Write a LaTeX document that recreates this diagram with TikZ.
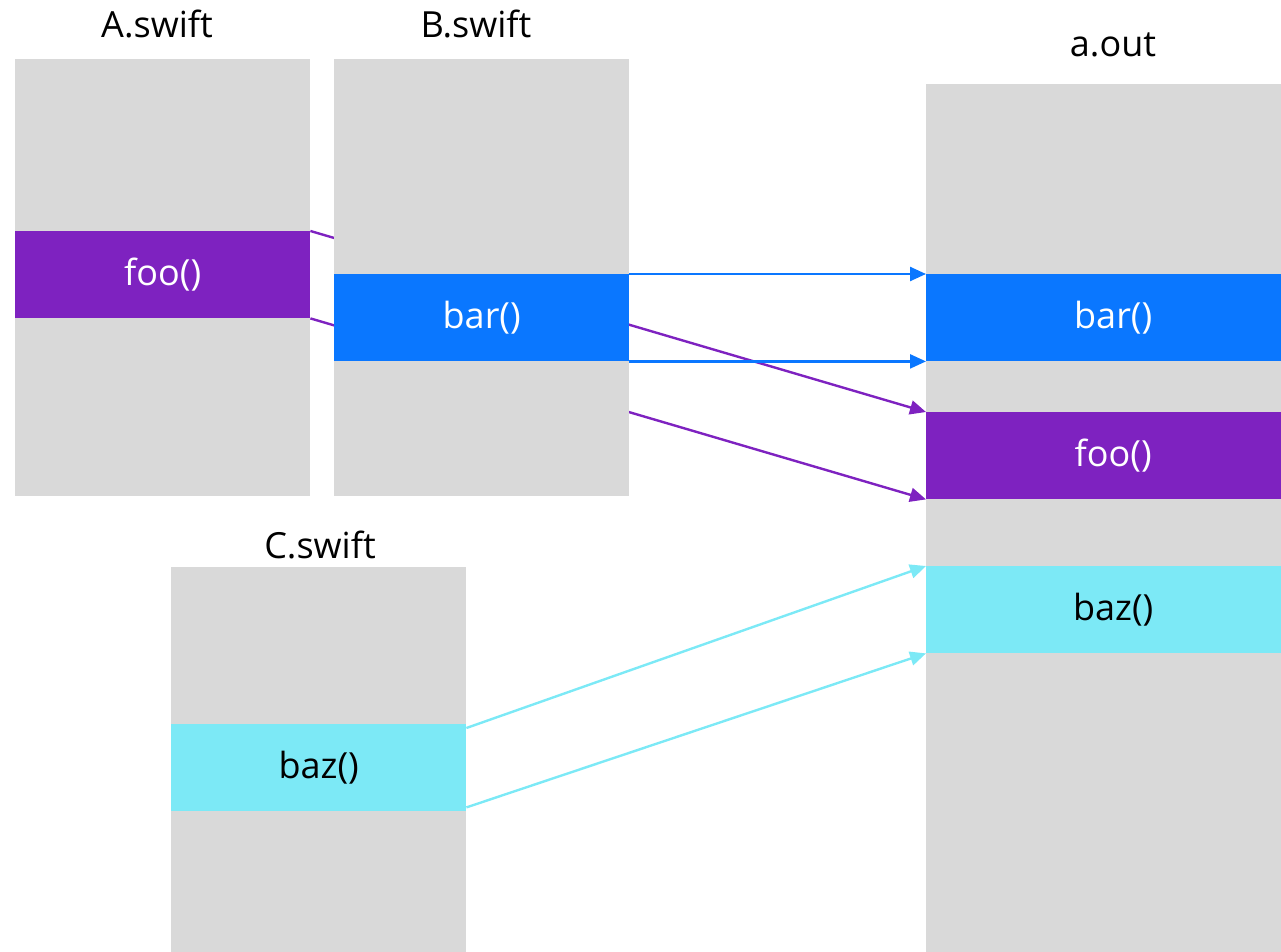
\documentclass[tikz,border=0pt]{standalone}
\usepackage{fontspec}
\setmainfont{Open Sans}
\usetikzlibrary{arrows.meta}
\definecolor{filegray}{HTML}{D9D9D9}
\definecolor{foopurple}{HTML}{7E22C0}
\definecolor{barblue}{HTML}{0A77FF}
\definecolor{bazcyan}{HTML}{7CE9F6}
\tikzset{
  filebox/.style={fill=filegray, draw=none, anchor=north west, inner sep=0pt},
  band/.style={draw=none, anchor=north west, inner sep=0pt, minimum height=87pt,
    font=\fontsize{36}{42}\selectfont},
  caption/.style={font=\fontsize{36}{42}\selectfont, inner sep=0pt},
  link/.style={line width=2.4pt, -{Triangle[length=16pt,width=14pt]}}
}
\begin{document}
\begin{tikzpicture}[x=1pt,y=-1pt]
\useasboundingbox (0,0) rectangle (1281,952);
\clip (0,0) rectangle (1281,952);

% A.swift
\node[caption] (alabel) at (157,24) {A.swift};
\node[filebox, minimum width=295pt, minimum height=437pt] (abox) at (15,59) {};
\node[band, fill=foopurple, text=white, minimum width=295pt] (afoo) at (15,231) {foo()};

% a.out (runs past the right and bottom edges)
\node[caption] (outlabel) at (1113,45) {a.out};
\node[filebox, minimum width=374pt, minimum height=900pt] (outbox) at (926,84) {};
\node[band, fill=barblue, text=white, minimum width=374pt] (outbar) at (926,274) {bar()};
\node[band, fill=foopurple, text=white, minimum width=374pt] (outfoo) at (926,412) {foo()};
\node[band, fill=bazcyan, text=black, minimum width=374pt] (outbaz) at (926,566) {baz()};

% foo() links pass behind B.swift
\draw[foopurple, link] (afoo.north east) -- (outfoo.north west);
\draw[foopurple, link] (afoo.south east) -- (outfoo.south west);

% B.swift
\node[caption] (blabel) at (476,24) {B.swift};
\node[filebox, minimum width=295pt, minimum height=437pt] (bbox) at (334,59) {};
\node[band, fill=barblue, text=white, minimum width=295pt] (bbar) at (334,274) {bar()};

\draw[barblue, link] (bbar.north east) -- (outbar.north west);
\draw[barblue, link] (bbar.south east) -- (outbar.south west);

% C.swift
\node[caption] (clabel) at (320,545) {C.swift};
\node[filebox, minimum width=295pt, minimum height=400pt] (cbox) at (171,567) {};
\node[band, fill=bazcyan, text=black, minimum width=295pt] (cbaz) at (171,724) {baz()};

\draw[bazcyan, link] ([yshift=-4pt]cbaz.north east) -- (outbaz.north west);
\draw[bazcyan, link] ([yshift=4pt]cbaz.south east) -- (outbaz.south west);
\end{tikzpicture}
\end{document}
